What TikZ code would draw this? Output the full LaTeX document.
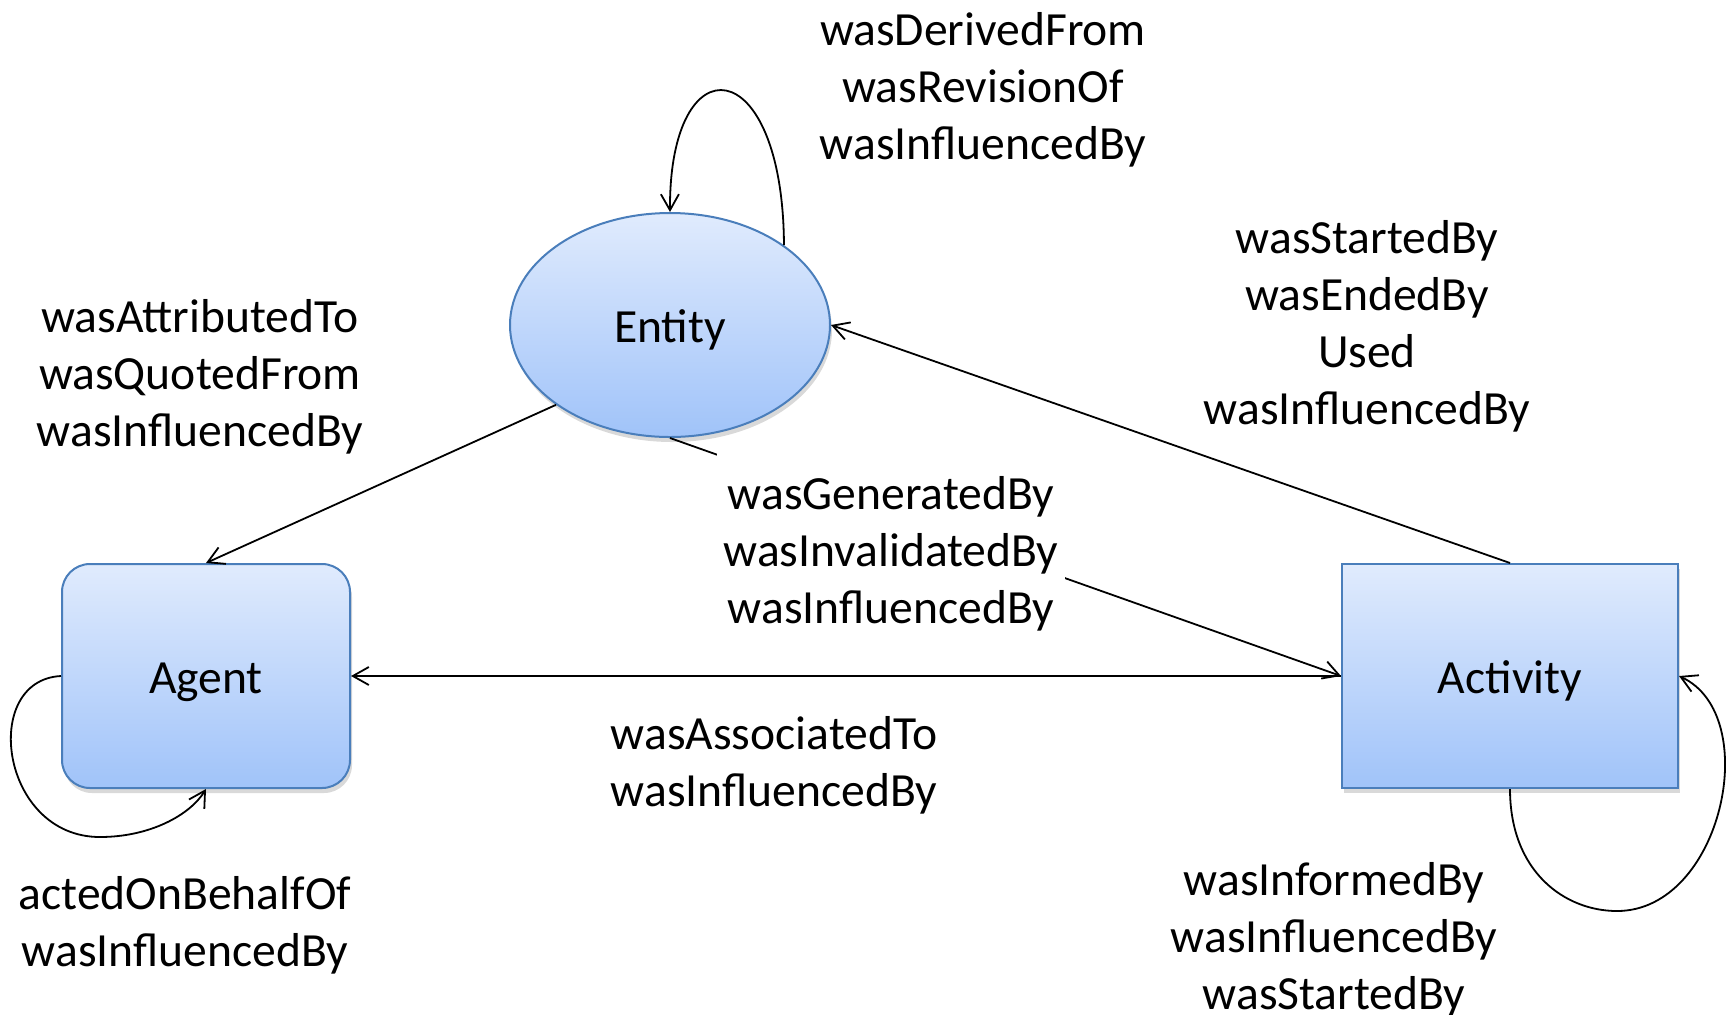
\documentclass[tikz,border=0pt]{standalone}
\usepackage{fontspec}
\setmainfont{Carlito}
\usetikzlibrary{arrows.meta,shapes.geometric,shadows}
\definecolor{ctop}{HTML}{E0EBFD}
\definecolor{cbot}{HTML}{A0C3F9}
\definecolor{cedge}{HTML}{4A7EBB}
\tikzset{
  every node/.style={font=\fontsize{23.8}{28.5}\selectfont},
  box/.style={draw=cedge, line width=1pt, top color=ctop, bottom color=cbot,
    drop shadow={opacity=0.3, shadow xshift=1pt, shadow yshift=-2.5pt}, inner sep=0pt,
    text height=17.5pt, text depth=0pt},
  lbl/.style={align=center, inner sep=0pt},
  conn/.style={line width=0.9pt, -{Straight Barb[length=8pt,width=9pt]}},
}
\begin{document}
\begin{tikzpicture}[x=0.5pt,y=-0.5pt]
\useasboundingbox (0,0) rectangle (1729,1014);
% main nodes
\node[box, ellipse, minimum width=160pt, minimum height=112pt] (entity) at (670,325) {Entity};
\node[box, rounded corners=14pt, minimum width=144pt, minimum height=112pt] (agent) at (206,676) {Agent};
\node[box, minimum width=168pt, minimum height=112pt] (activity) at (1510,676) {Activity};
% connectors
\draw[conn] (entity.35) .. controls (783,50) and (669,40) .. (entity.north);
\draw[conn] (entity.215) -- (agent.north);
\draw[conn] (activity.north) -- (entity.east);
\draw[conn] (entity.south) -- (activity.west);
\draw[conn] (activity.west) -- (agent.east);
\draw[conn] (agent.west) .. controls (-20,680) and (0,837) .. (100,837) .. controls (150,837) and (190,815) .. (agent.south);
\draw[conn] (activity.south) .. controls (1510,872) and (1565,911) .. (1617,911) .. controls (1722,911) and (1764,715) .. (activity.east);
% labels
\node[lbl] (lderived) at (983,89.5) {wasDerivedFrom\\wasRevisionOf\\wasInfluencedBy};
\node[lbl] (lstarted) at (1367,326.5) {wasStartedBy\\wasEndedBy\\Used\\wasInfluencedBy};
\node[lbl] (lattrib) at (200,377) {wasAttributedTo\\wasQuotedFrom\\wasInfluencedBy};
\node[lbl, fill=white, minimum width=174pt, minimum height=103pt] (lgen) at (891,554) {wasGeneratedBy\\wasInvalidatedBy\\wasInfluencedBy};
\node[lbl] (lassoc) at (774,765) {wasAssociatedTo\\wasInfluencedBy};
\node[lbl] (lacted) at (185,925.5) {actedOnBehalfOf\\wasInfluencedBy};
\node[lbl] (linformed) at (1334,939.5) {wasInformedBy\\wasInfluencedBy\\wasStartedBy};
\end{tikzpicture}
\end{document}
